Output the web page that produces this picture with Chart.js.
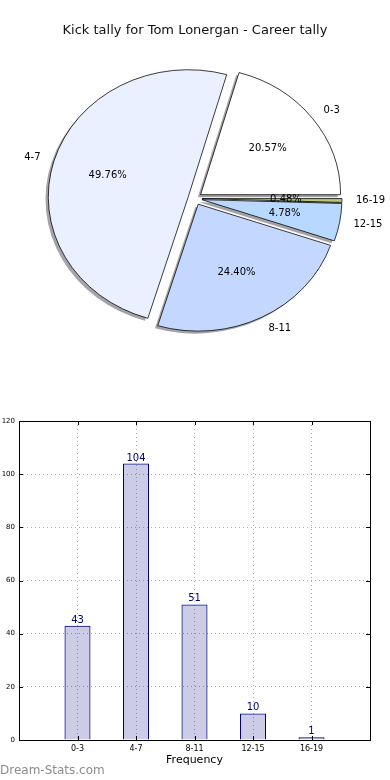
<!DOCTYPE html>
<html>
<head>
<meta charset="utf-8">
<script src="https://cdn.jsdelivr.net/npm/chart.js@4.4.0/dist/chart.umd.min.js"></script>
<style>
  body { margin: 0; background: #fff; width: 390px; height: 780px; position: relative; overflow: hidden; }
  #pieChart { position: absolute; left: 0; top: 0; }
  #barChart { position: absolute; left: 0; top: 400px; }
  #credit { position: absolute; left: 0; top: 763px; font: 12px 'DejaVu Sans', sans-serif; color: #8c8c8c; }
</style>
</head>
<body>
<canvas id="pieChart" width="390" height="400"></canvas>
<canvas id="barChart" width="390" height="380"></canvas>
<div id="credit">Dream-Stats.com</div>
<script>
const chartTitle = 'Kick tally for Tom Lonergan - Career tally';
const categories = ['0-3', '4-7', '8-11', '12-15', '16-19'];
const counts = [43, 104, 51, 10, 1];
const sliceColors = ['#ffffff', '#eaf0ff', '#c4d8ff', '#b8d8ff', '#b8c878'];
const yMax = 120;
const yStep = 20;
const xAxisTitle = 'Frequency';

const total = counts.reduce((a, b) => a + b, 0);
const percentLabels = counts.map(v => (v / total * 100).toFixed(2) + '%');

// matplotlib draws counter-clockwise from 3 o'clock, chart.js clockwise -> feed it reversed
const pieNames = categories.slice().reverse();
const pieValues = counts.slice().reverse();
const piePercents = percentLabels.slice().reverse();
const pieColors = sliceColors.slice().reverse();

const PIE_SQUASH = 0.907;   // the original pie is a bit flattened
const EXPLODE = 7;
const SHADOW_DX = -2.8, SHADOW_DY = 2.5;
const FONT = "'DejaVu Sans', sans-serif";

function placeWedge(ctx, arc) {
	const mid = (arc.startAngle + arc.endAngle) / 2;
	ctx.translate(arc.x, arc.y);
	ctx.scale(1, PIE_SQUASH);
	ctx.translate(-arc.x, -arc.y);
	ctx.translate(Math.cos(mid) * EXPLODE, Math.sin(mid) * EXPLODE);
}

function labelPoint(arc, r) {
	const mid = (arc.startAngle + arc.endAngle) / 2;
	const d = EXPLODE + r * arc.outerRadius;
	return { x: arc.x + Math.cos(mid) * d, y: arc.y + Math.sin(mid) * d * PIE_SQUASH, right: Math.cos(mid) > 0 };
}

const mplPie = {
	id: 'mplPie',
	beforeDatasetDraw(chart, args) {
		const ctx = chart.ctx;
		const arcs = args.meta.data;
		// shadows first, below every wedge
		arcs.forEach(arc => {
			ctx.save();
			ctx.translate(SHADOW_DX, SHADOW_DY);
			placeWedge(ctx, arc);
			ctx.beginPath();
			ctx.moveTo(arc.x, arc.y);
			ctx.arc(arc.x, arc.y, arc.outerRadius, arc.startAngle, arc.endAngle);
			ctx.closePath();
			ctx.fillStyle = '#a4a4a8';
			ctx.fill();
			ctx.restore();
		});
		arcs.forEach(arc => {
			ctx.save();
			placeWedge(ctx, arc);
			arc.draw(ctx);
			ctx.restore();
		});
		return false;
	},
	afterDatasetsDraw(chart) {
		const ctx = chart.ctx;
		const arcs = chart.getDatasetMeta(0).data;
		ctx.save();
		ctx.font = '10px ' + FONT;
		ctx.fillStyle = '#000';
		ctx.textBaseline = 'middle';
		arcs.forEach((arc, i) => {
			const p = labelPoint(arc, 1.1);
			ctx.textAlign = p.right ? 'left' : 'right';
			ctx.fillText(pieNames[i], p.x, p.y);
			const q = labelPoint(arc, 0.6);
			ctx.textAlign = 'center';
			ctx.fillText(piePercents[i], q.x, q.y);
		});
		ctx.restore();
	}
};

const pieChart = new Chart(document.getElementById('pieChart').getContext('2d'), {
	type: 'pie',
	data: {
		labels: pieNames,
		datasets: [{
			data: pieValues,
			backgroundColor: pieColors,
			borderColor: '#000',
			borderWidth: 0.8
		}]
	},
	options: {
		responsive: false,
		animation: false,
		rotation: 90,
		radius: 140,
		layout: { padding: { top: 0, bottom: 50.6, left: 0, right: 0 } },
		plugins: {
			legend: { display: false },
			tooltip: { enabled: false },
			title: {
				display: true,
				text: chartTitle,
				color: '#111',
				font: { family: FONT, size: 13, weight: 'normal' },
				padding: { top: 23, bottom: 9 }
			}
		}
	},
	plugins: [mplPie]
});

// bar chart: pad the category axis with an empty slot on each side like the original
const barLabels = [''].concat(categories, ['']);
const barValues = [null].concat(counts, [null]);

const barExtras = {
	id: 'barExtras',
	afterDatasetsDraw(chart) {
		const ctx = chart.ctx;
		const a = chart.chartArea;
		const meta = chart.getDatasetMeta(0);
		ctx.save();
		ctx.font = '10px ' + FONT;
		ctx.fillStyle = '#000080';
		ctx.textAlign = 'center';
		ctx.textBaseline = 'alphabetic';
		meta.data.forEach((bar, i) => {
			if (barValues[i] == null) return;
			ctx.fillText(String(barValues[i]), bar.x, bar.y - 3);
		});
		// inward tick marks
		ctx.strokeStyle = '#000';
		ctx.lineWidth = 1;
		ctx.beginPath();
		chart.scales.y.ticks.forEach(t => {
			const y = Math.round(chart.scales.y.getPixelForValue(t.value)) + 0.5;
			ctx.moveTo(a.left, y); ctx.lineTo(a.left + 4, y);
			ctx.moveTo(a.right, y); ctx.lineTo(a.right - 4, y);
		});
		barLabels.forEach((lab, i) => {
			if (!lab) return;
			const x = Math.round(chart.scales.x.getPixelForValue(i)) + 0.5;
			ctx.moveTo(x, a.bottom); ctx.lineTo(x, a.bottom - 4);
			ctx.moveTo(x, a.top); ctx.lineTo(x, a.top + 4);
		});
		ctx.stroke();
		ctx.strokeRect(Math.round(a.left) + 0.5, Math.round(a.top) + 0.5,
			Math.round(a.right - a.left), Math.round(a.bottom - a.top));
		ctx.restore();
	}
};

const barChart = new Chart(document.getElementById('barChart').getContext('2d'), {
	type: 'bar',
	data: {
		labels: barLabels,
		datasets: [{
			data: barValues,
			backgroundColor: 'rgba(0, 0, 128, 0.2)',
			borderColor: '#000080',
			borderWidth: 1,
			barPercentage: 0.445,
			categoryPercentage: 1
		}]
	},
	options: {
		responsive: false,
		animation: false,
		layout: { padding: { top: 21, right: 20, left: 0, bottom: 9.2 } },
		plugins: {
			legend: { display: false },
			tooltip: { enabled: false }
		},
		scales: {
			x: {
				offset: false,
				grid: { offset: false, color: '#b0b0b0', drawTicks: false },
				border: { display: false, dash: [1, 3] },
				ticks: { color: '#000', font: { family: FONT, size: 8 }, padding: 4, autoSkip: false, maxRotation: 0 },
				title: {
					display: true,
					text: xAxisTitle,
					color: '#000',
					font: { family: FONT, size: 11 },
					padding: { top: -4, bottom: 4 }
				}
			},
			y: {
				min: 0,
				max: yMax,
				grid: { color: '#b0b0b0', drawTicks: false },
				border: { display: false, dash: [1, 3] },
				ticks: { stepSize: yStep, color: '#000', font: { family: FONT, size: 7 }, padding: 4 },
				afterFit(scale) { scale.width = 19; }
			}
		}
	},
	plugins: [barExtras]
});
</script>
</body>
</html>
